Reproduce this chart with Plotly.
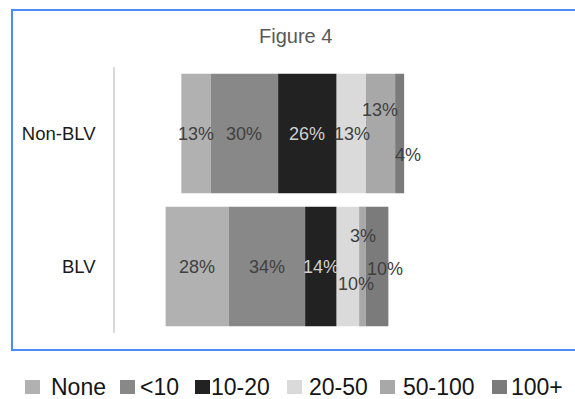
import plotly.graph_objects as go

# Survey groups and response bands
groups = ["Non-BLV", "BLV"]
bands = ["None", "<10", "10-20", "20-50", "50-100", "100+"]

# Share of respondents (%) in each band, per group
non_blv = [13, 30, 26, 13, 13, 4]
blv = [28, 34, 14, 10, 3, 10]

values = {"Non-BLV": non_blv, "BLV": blv}

# Styling
FONT = "Arial, Liberation Sans, sans-serif"
band_colors = ["#b1b1b1", "#888888", "#222222", "#dadada", "#a8a8a8", "#7b7b7b"]
label_colors = ["#404040", "#404040", "#d0d0d0", "#404040", "#404040", "#404040"]
# pixel nudges for labels that would otherwise collide (dx, dy; dy positive = down)
label_nudge = {
    "Non-BLV": [(0, 0), (0, 0), (0, 0), (1, 0), (-1, -24), (8, 21)],
    "BLV": [(0, 0), (0, 0), (0, 0), (8, 17), (0, -31), (8, 2)],
}

# Canvas and plot-area geometry (pixels)
W, H = 575, 399
L, R, T, B = 115, 10, 67, 66
PW, PH = W - L - R, H - T - B


def px(x):
    return (x - L) / PW


def py(y):
    return (H - B - y) / PH


# Bars diverge around the 10-20 / 20-50 boundary
split = 3

fig = go.Figure()
starts = {}
for g in groups:
    v = values[g]
    s = -sum(v[:split])
    st = []
    for val in v:
        st.append(s)
        s += val
    starts[g] = st

for i, b in enumerate(bands):
    fig.add_trace(go.Bar(
        y=groups,
        x=[values[g][i] for g in groups],
        base=[starts[g][i] for g in groups],
        orientation="h",
        name=b,
        marker=dict(color=band_colors[i], line=dict(width=0)),
        hoverinfo="skip",
        showlegend=False,
    ))

annotations = []
for g in groups:
    for i, val in enumerate(values[g]):
        dx, dy = label_nudge[g][i]
        annotations.append(dict(
            x=starts[g][i] + val / 2, y=g, xref="x", yref="y",
            text=f"{val}%", showarrow=False,
            xshift=dx, yshift=-dy,
            font=dict(family=FONT, size=18, color=label_colors[i]),
        ))

# Title
annotations.append(dict(
    x=px(295), y=py(36), xref="paper", yref="paper", text="Figure 4",
    xanchor="center", yanchor="middle", showarrow=False,
    font=dict(family=FONT, size=20, color="#595959"),
))

shapes = [dict(
    type="rect", xref="paper", yref="paper",
    x0=px(12), x1=px(590), y0=py(350), y1=py(10),
    line=dict(color="#4d8cf5", width=2), fillcolor="rgba(0,0,0,0)", layer="below",
)]

# Legend drawn below the framed chart: (square left, text left) in pixels
legend_pos = [(25, 51), (120, 140), (195, 211), (287, 309), (380, 403), (492, 511)]
legend_y = 387
for i, b in enumerate(bands):
    sx, tx = legend_pos[i]
    shapes.append(dict(
        type="rect", xref="paper", yref="paper",
        x0=px(sx), x1=px(sx + 15), y0=py(legend_y + 7), y1=py(legend_y - 7),
        line=dict(width=0), fillcolor=band_colors[i],
    ))
    annotations.append(dict(
        x=px(tx), y=py(legend_y), xref="paper", yref="paper", text=b,
        xanchor="left", yanchor="middle", showarrow=False, xshift=-2,
        font=dict(family=FONT, size=23, color="#151515"),
    ))

fig.update_layout(
    width=W, height=H,
    margin=dict(l=L, r=R, t=T, b=B, autoexpand=False),
    paper_bgcolor="white", plot_bgcolor="white",
    barmode="overlay", bargap=0.1,
    showlegend=False,
    xaxis=dict(range=[-98.5, 101.5], visible=False, fixedrange=True),
    yaxis=dict(
        type="category", categoryorder="array", categoryarray=["BLV", "Non-BLV"],
        showline=True, linecolor="#d9d9d9", linewidth=1.5,
        ticks="", ticklabelstandoff=14, showgrid=False, zeroline=False,
        tickfont=dict(family=FONT, size=18.5, color="#1a1a1a"),
        fixedrange=True,
    ),
    annotations=annotations,
    shapes=shapes,
)

fig.write_html("out.html")
